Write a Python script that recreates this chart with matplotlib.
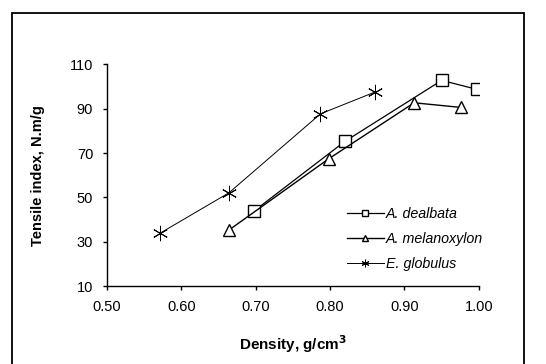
import matplotlib
matplotlib.use("Agg")
import matplotlib.pyplot as plt
from matplotlib.patches import Rectangle

# Data
dealbata_x = [0.697, 0.820, 0.950, 0.998]
dealbata_y = [43.7, 75.3, 102.8, 98.7]
melanoxylon_x = [0.664, 0.798, 0.913, 0.976]
melanoxylon_y = [35.3, 67.4, 92.7, 90.6]
globulus_x = [0.571, 0.664, 0.787, 0.860]
globulus_y = [33.8, 52.1, 87.7, 97.5]

x_ticks = [0.50, 0.60, 0.70, 0.80, 0.90, 1.00]
y_ticks = [10, 30, 50, 70, 90, 110]

plt.rcParams['font.family'] = ['Liberation Sans', 'DejaVu Sans']

fig = plt.figure(figsize=(5.46, 3.64), dpi=100)
ax = fig.add_axes([0.196, 0.214, 0.681, 0.609])

ax.plot(dealbata_x, dealbata_y, color='black', lw=0.9, marker='s', ms=8,
        mfc='white', mec='black', mew=1.0, label='A. dealbata', zorder=3)
ax.plot(melanoxylon_x, melanoxylon_y, color='black', lw=1.0, marker='^', ms=9,
        mfc='white', mec='black', mew=1.0, label='A. melanoxylon', zorder=3)
ax.plot(globulus_x, globulus_y, color='black', lw=0.7, marker=(6, 2, 0), ms=11,
        mec='black', mew=0.7, label='E. globulus', zorder=3)

ax.set_xlim(0.50, 1.00)
ax.set_ylim(10, 110)
ax.set_xticks(x_ticks)
ax.set_xticklabels([f"{t:.2f}" for t in x_ticks])
ax.set_yticks(y_ticks)
ax.set_yticklabels([str(t) for t in y_ticks])
ax.spines['top'].set_visible(False)
ax.spines['right'].set_visible(False)
for s in ('left', 'bottom'):
    ax.spines[s].set_linewidth(1.0)
ax.tick_params(axis='both', direction='out', length=3, width=1.0,
               labelsize=10.5, pad=7)

ax.set_xlabel('Density, g/cm$^\\mathbf{3}$', fontsize=11, fontweight='bold', labelpad=14)
ax.set_ylabel('Tensile index, N.m/g', fontsize=10.5, fontweight='bold', labelpad=18)

leg = ax.legend(loc='lower right', bbox_to_anchor=(1.035, 0.03), frameon=False,
                prop={'style': 'italic', 'size': 10.3}, handlelength=2.6,
                handletextpad=0.15, labelspacing=0.75, markerscale=0.5,
                borderaxespad=0.2)

# Figure border
fig.patches.append(Rectangle((12 / 546, -0.05), (524 - 12) / 546, 1.05 - 13 / 364,
                             transform=fig.transFigure, fill=False,
                             edgecolor='black', lw=1.3, zorder=0))

fig.savefig('out.png', dpi=100)
